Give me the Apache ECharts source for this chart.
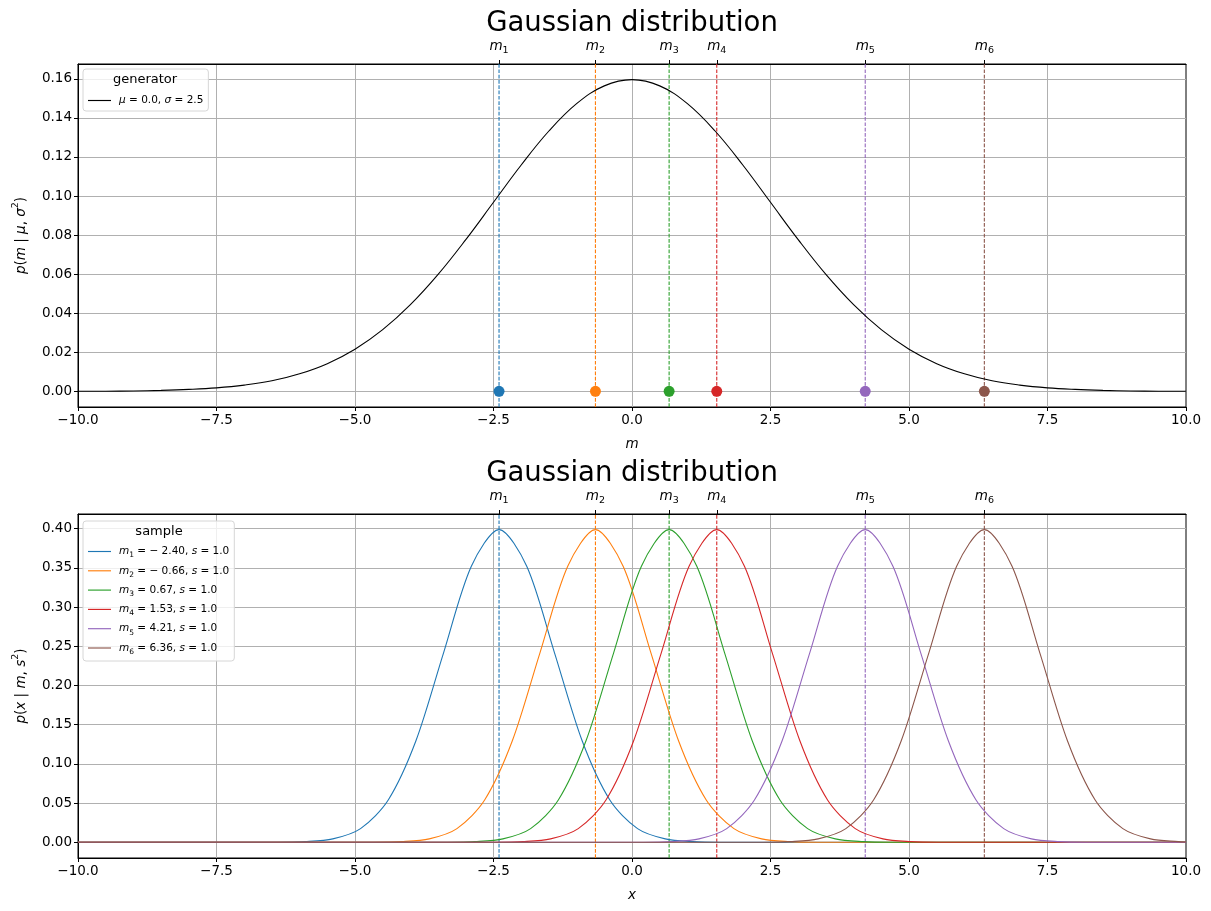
<!DOCTYPE html>
<html>
<head>
<meta charset="utf-8">
<script src="https://cdn.jsdelivr.net/npm/echarts/dist/echarts.min.js"></script>
<style>
html, body { margin: 0; padding: 0; background: #fff; }
#root { width: 1211px; height: 911px; }
</style>
</head>
<body>
<div id="root"></div>
<script>
// sample means and their colours
var means = [-2.40, -0.66, 0.67, 1.53, 4.21, 6.36];
var colors = ['#1f77b4', '#ff7f0e', '#2ca02c', '#d62728', '#9467bd', '#8c564b'];

// axis limits and tick values of the two y axes
var topYRange = [-0.008, 0.1676];
var botYRange = [-0.02, 0.4188];
var topYTicks = [0, 0.02, 0.04, 0.06, 0.08, 0.10, 0.12, 0.14, 0.16];
var botYTicks = [0, 0.05, 0.10, 0.15, 0.20, 0.25, 0.30, 0.35, 0.40];

// generator curve (mu = 0, sigma = 2.5)
var genX = [-10, -9.5, -9, -8.5, -8, -7.5, -7, -6.5, -6, -5.5, -5, -4.5, -4, -3.5, -3, -2.5, -2, -1.5, -1, -0.5,
  0, 0.5, 1, 1.5, 2, 2.5, 3, 3.5, 4, 4.5, 5, 5.5, 6, 6.5, 7, 7.5, 8, 8.5, 9, 9.5, 10];
var genY = [0.0001, 0.0001, 0.0002, 0.0005, 0.0010, 0.0018, 0.0032, 0.0054, 0.0090, 0.0142, 0.0216, 0.0316, 0.0444, 0.0599, 0.0777, 0.0968, 0.1159, 0.1333, 0.1473, 0.1564,
  0.1596, 0.1564, 0.1473, 0.1333, 0.1159, 0.0968, 0.0777, 0.0599, 0.0444, 0.0316, 0.0216, 0.0142, 0.0090, 0.0054, 0.0032, 0.0018, 0.0010, 0.0005, 0.0002, 0.0001, 0.0001];

// sample curves (s = 1)
var c1X = [-10, -6.4, -5.9, -5.4, -4.9, -4.4, -3.9, -3.4, -2.9, -2.4, -1.9, -1.4, -0.9, -0.4, 0.1, 0.6, 1.1, 1.6, 10];
var c2X = [-10, -4.66, -4.16, -3.66, -3.16, -2.66, -2.16, -1.66, -1.16, -0.66, -0.16, 0.34, 0.84, 1.34, 1.84, 2.34, 2.84, 3.34, 10];
var c3X = [-10, -3.33, -2.83, -2.33, -1.83, -1.33, -0.83, -0.33, 0.17, 0.67, 1.17, 1.67, 2.17, 2.67, 3.17, 3.67, 4.17, 4.67, 10];
var c4X = [-10, -2.47, -1.97, -1.47, -0.97, -0.47, 0.03, 0.53, 1.03, 1.53, 2.03, 2.53, 3.03, 3.53, 4.03, 4.53, 5.03, 5.53, 10];
var c5X = [-10, 0.21, 0.71, 1.21, 1.71, 2.21, 2.71, 3.21, 3.71, 4.21, 4.71, 5.21, 5.71, 6.21, 6.71, 7.21, 7.71, 8.21, 10];
var c6X = [-10, 2.36, 2.86, 3.36, 3.86, 4.36, 4.86, 5.36, 5.86, 6.36, 6.86, 7.36, 7.86, 8.36, 8.86, 9.36, 9.86, 10];
var bumpY = [0, 0.0001, 0.0009, 0.0044, 0.0175, 0.0540, 0.1295, 0.2420, 0.3521, 0.3989, 0.3521, 0.2420, 0.1295, 0.0540, 0.0175, 0.0044, 0.0009, 0.0001, 0];
var c6Y = [0, 0.0001, 0.0009, 0.0044, 0.0175, 0.0540, 0.1295, 0.2420, 0.3521, 0.3989, 0.3521, 0.2420, 0.1295, 0.0540, 0.0175, 0.0044, 0.0009, 0.0005];
var curveX = [c1X, c2X, c3X, c4X, c5X, c6X];
var curveY = [bumpY, bumpY, bumpY, bumpY, bumpY, c6Y];
var meanText = ['\u2212 2.40', '\u2212 0.66', '0.67', '1.53', '4.21', '6.36'];

var FONT = 'DejaVu Sans';
var dom = document.getElementById('root');
var myChart = echarts.init(dom, null, { renderer: 'canvas' });

function zip(xs, ys) {
  return xs.map(function (x, i) { return [x, ys[i]]; });
}
function fmtX(v) {
  return v.toFixed(1).replace('-', '\u2212');
}
var mathRich = {
  n: { fontFamily: FONT, fontSize: 10.5, color: '#000' },
  i: { fontFamily: FONT, fontSize: 10.5, fontStyle: 'italic', color: '#000', lineHeight: 16 },
  s: { fontFamily: FONT, fontSize: 7.5, fontStyle: 'normal', color: '#000', verticalAlign: 'bottom', lineHeight: 8 }
};
var tickRich = {
  i: { fontFamily: FONT, fontSize: 13.5, fontStyle: 'italic', color: '#000', lineHeight: 20 },
  s: { fontFamily: FONT, fontSize: 9.5, color: '#000', verticalAlign: 'bottom', lineHeight: 11 }
};
var nameRich = {
  n: { fontFamily: FONT, fontSize: 13.5, color: '#000' },
  i: { fontFamily: FONT, fontSize: 13.5, fontStyle: 'italic', color: '#000', lineHeight: 20 },
  p: { fontFamily: FONT, fontSize: 9.5, color: '#000', verticalAlign: 'top', lineHeight: 11 }
};

function mainX(grid, name) {
  return {
    type: 'value', gridIndex: grid, min: -10, max: 10, interval: 2.5,
    name: name, nameLocation: 'middle', nameGap: 30,
    nameTextStyle: { fontFamily: FONT, fontSize: 13.5, fontStyle: 'italic', color: '#000' },
    axisLine: { onZero: false, lineStyle: { color: '#000', width: 1 } },
    axisTick: { length: 4, lineStyle: { color: '#000' } },
    axisLabel: { fontFamily: FONT, fontSize: 13.5, color: '#000', margin: 6, formatter: fmtX },
    splitLine: { show: true, showMinLine: false, showMaxLine: false, lineStyle: { color: '#b0b0b0', width: 1 } }
  };
}
function topX(grid) {
  return {
    type: 'value', gridIndex: grid, position: 'top', min: -10, max: 10,
    axisLine: { show: true, onZero: false, lineStyle: { color: '#000', width: 1 } },
    axisTick: { show: true, customValues: means, length: 4, lineStyle: { color: '#000' } },
    axisLabel: {
      show: true, customValues: means, margin: 8,
      formatter: function (v) {
        var k = means.indexOf(v);
        return '{i|m}{s|' + (k + 1) + '}';
      },
      rich: tickRich
    },
    splitLine: { show: false }
  };
}
function mainY(grid, range, ticks, name) {
  return {
    type: 'value', gridIndex: grid, min: range[0], max: range[1],
    name: name, nameLocation: 'middle', nameGap: 47, nameRotate: 90,
    nameTextStyle: { rich: nameRich },
    axisLine: { show: true, onZero: false, lineStyle: { color: '#000', width: 1 } },
    axisTick: { show: true, customValues: ticks, length: 4, lineStyle: { color: '#000' } },
    axisLabel: {
      customValues: ticks,
      fontFamily: FONT, fontSize: 13.5, color: '#000', margin: 6,
      formatter: function (v) { return v.toFixed(2); }
    },
    splitLine: { show: true, customValues: ticks, lineStyle: { color: '#b0b0b0', width: 1 } }
  };
}
// dashed vertical line at a mean, spanning the panel's y range
function vline(k, xi, yi, range) {
  return {
    name: 'v' + xi + k, type: 'line', xAxisIndex: xi, yAxisIndex: yi,
    data: [[means[k], range[0]], [means[k], range[1]]],
    symbol: 'none', silent: true, color: colors[k],
    lineStyle: { type: [3.7, 1.6], color: colors[k], width: 1.1 }, z: 2
  };
}

var series = [{
  name: 'gen', type: 'line', xAxisIndex: 0, yAxisIndex: 0,
  data: zip(genX, genY), smooth: 0.4, symbol: 'none',
  color: '#000', lineStyle: { color: '#000', width: 1.1 }, z: 3
}];
means.forEach(function (m, k) {
  series.push(vline(k, 0, 0, topYRange));
  series.push({
    name: 'dot' + k, type: 'scatter', xAxisIndex: 0, yAxisIndex: 0,
    data: [[m, 0]], symbolSize: 11, color: colors[k], itemStyle: { color: colors[k], opacity: 1 }, z: 4
  });
});
means.forEach(function (m, k) {
  series.push(vline(k, 2, 1, botYRange));
  series.push({
    name: 'c' + (k + 1), type: 'line', xAxisIndex: 2, yAxisIndex: 1,
    data: zip(curveX[k], curveY[k]), smooth: 0.3, symbol: 'none',
    color: colors[k], lineStyle: { color: colors[k], width: 1.1 }, z: 3
  });
});

var legendBase = {
  orient: 'vertical', left: 83, itemWidth: 23, itemHeight: 14,
  icon: 'path://M0,0 H100 V5 H0 Z',
  borderColor: '#d6d6d6', borderWidth: 1, borderRadius: 3,
  backgroundColor: 'rgba(255,255,255,0.8)', z: 10,
  textStyle: { rich: mathRich, padding: [0, 0, 0, 3] }
};

var option = {
  animation: false,
  backgroundColor: '#fff',
  grid: [
    { left: 78, right: 25, top: 64, height: 343, show: true, borderColor: '#000', borderWidth: 1 },
    { left: 78, right: 25, top: 514, height: 344, show: true, borderColor: '#000', borderWidth: 1 }
  ],
  xAxis: [mainX(0, 'm'), topX(0), mainX(1, 'x'), topX(1)],
  yAxis: [
    mainY(0, topYRange, topYTicks, '{i|p}{n|(}{i|m}{n| | }{i|μ}{n|, }{i|σ}{p|2}{n|)}'),
    mainY(1, botYRange, botYTicks, '{i|p}{n|(}{i|x}{n| | }{i|m}{n|, }{i|s}{p|2}{n|)}')
  ],
  legend: [
    Object.assign({}, legendBase, {
      top: 69, padding: [26, 5, 5, 5], itemGap: 5, data: ['gen'],
      formatter: function () { return '{i|μ}{n| = 0.0, }{i|σ}{n| = 2.5}'; }
    }),
    Object.assign({}, legendBase, {
      top: 521, padding: [25, 5, 5, 5], itemGap: 5.8,
      data: ['c1', 'c2', 'c3', 'c4', 'c5', 'c6'],
      formatter: function (name) {
        var k = Number(name.slice(1)) - 1;
        return '{i|m}{s|' + (k + 1) + '}{n| = ' + meanText[k] + ', }{i|s}{n| = 1.0}';
      }
    })
  ],
  graphic: [
    { type: 'text', x: 632, y: 24, z: 20, style: { text: 'Gaussian distribution', fontFamily: FONT, fontSize: 27.5, fill: '#000', align: 'center', verticalAlign: 'middle' } },
    { type: 'text', x: 632, y: 474, z: 20, style: { text: 'Gaussian distribution', fontFamily: FONT, fontSize: 27.5, fill: '#000', align: 'center', verticalAlign: 'middle' } },
    { type: 'text', x: 145, y: 80, z: 120, style: { text: 'generator', fontFamily: FONT, fontSize: 13, fill: '#000', align: 'center', verticalAlign: 'middle' } },
    { type: 'text', x: 159, y: 532, z: 120, style: { text: 'sample', fontFamily: FONT, fontSize: 13, fill: '#000', align: 'center', verticalAlign: 'middle' } }
  ],
  series: series
};

myChart.setOption(option);
</script>
</body>
</html>
